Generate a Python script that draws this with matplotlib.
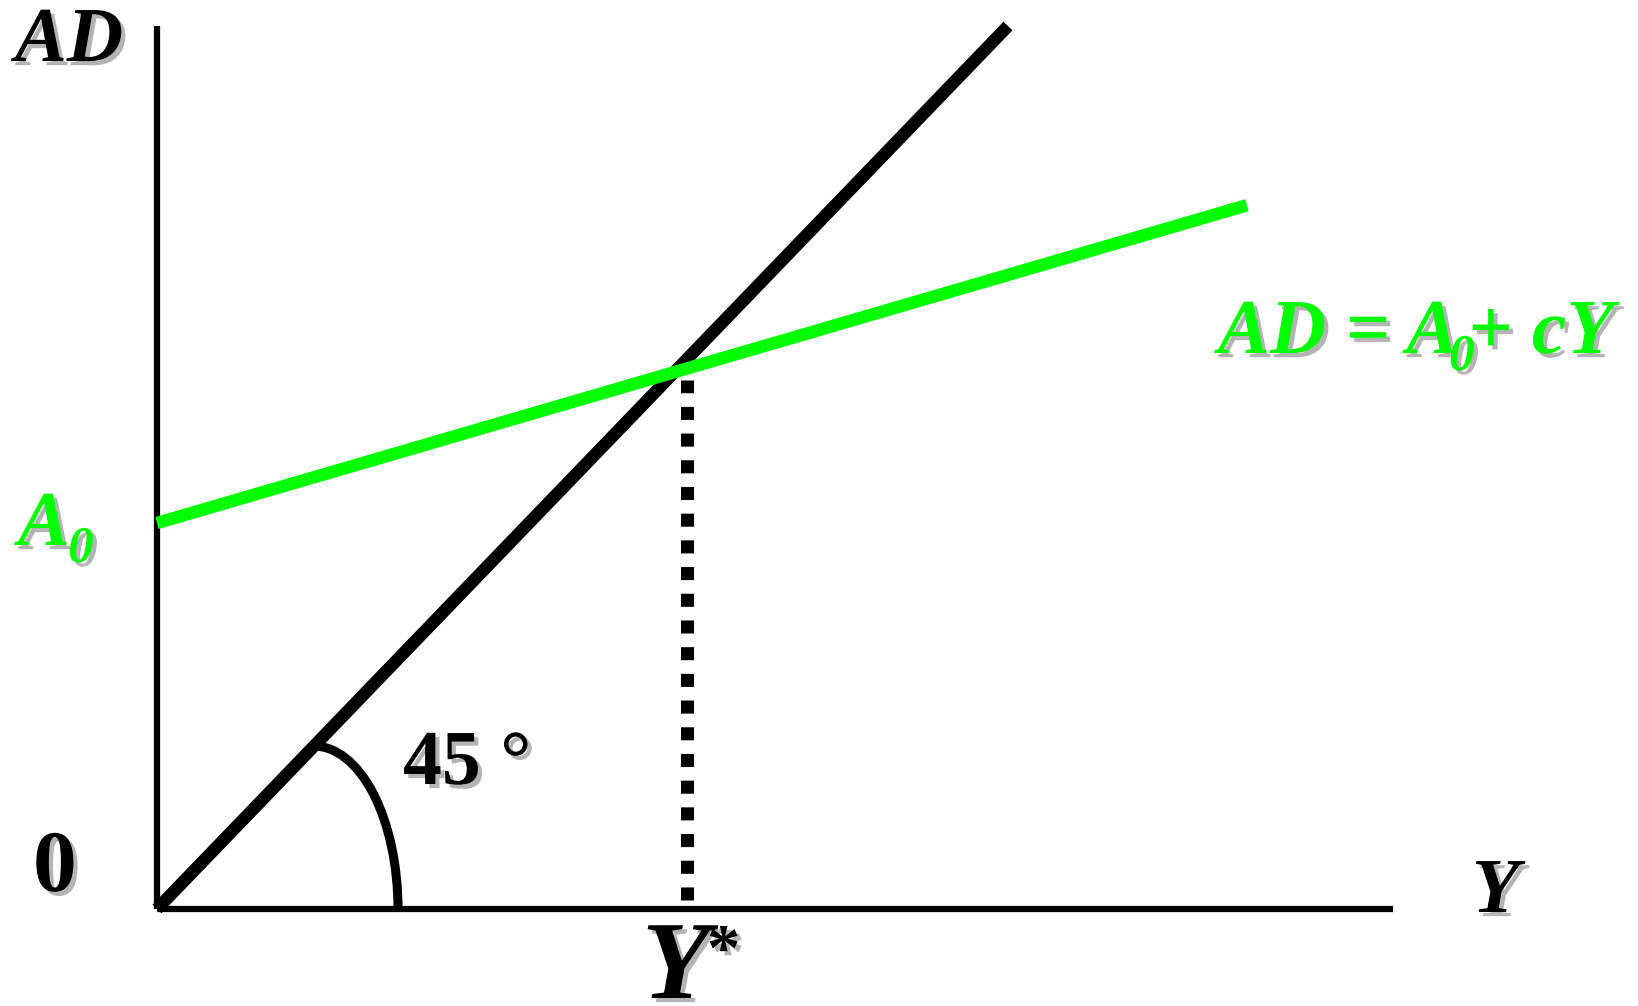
import matplotlib
matplotlib.use("Agg")
import matplotlib.pyplot as plt
import matplotlib.patheffects as pe
from matplotlib.patches import Arc

# Keynesian cross: AD = A0 + cY against the 45 degree line
Y_axis_max = 1236      # length of income axis
AD_axis_max = 851      # length of AD axis
line45_Y = [0, 851]    # 45 degree line, AD = Y
A0 = 372               # autonomous demand
c = 0.281              # marginal propensity to consume
ad_Y = [0, 1090]       # range of the AD line
Y_star = 529.5         # equilibrium income (dotted guide)
guide_AD = [8.7, 510]  # extent of dotted guide
arc_center = (157, 0)
arc_size = (168, 314)  # width, height of the angle arc ellipse

W, H = 1638, 1006
fig = plt.figure(figsize=(W / 100, H / 100), dpi=100)
ax = fig.add_axes([0, 0, 1, 1])
ax.set_xlim(-157, W - 157)
ax.set_ylim(-(H - 909) / 1.0376, 909 / 1.0376)
ax.axis("off")

# axes
ax.plot([0, 0], [0, AD_axis_max], color="black", lw=4.5, solid_capstyle="butt")
ax.plot([0, Y_axis_max], [0, 0], color="black", lw=4.5, solid_capstyle="butt")

# 45 degree line
ax.plot(line45_Y, line45_Y, color="black", lw=9, solid_capstyle="butt")

# AD line
ad_vals = [A0 + c * y for y in ad_Y]
ax.plot(ad_Y, ad_vals, color="#00ff00", lw=9, solid_capstyle="butt")

# dotted guide at Y*
ax.plot([Y_star, Y_star], guide_AD, color="black", lw=9.4,
        dashes=(1, 1.045), dash_capstyle="butt")

# angle arc
ax.add_patch(Arc(arc_center, arc_size[0], arc_size[1], theta1=0, theta2=90,
                 color="black", lw=6.5))

shadow = [pe.SimplePatchShadow(offset=(3, -3), shadow_rgbFace="#b4b4b4", alpha=1.0),
          pe.Normal()]


def label(x, y, s, size, color="black", style="italic"):
    fig.text(x / W, 1 - y / H, s, fontsize=size, family="Liberation Serif",
             weight="bold", style=style, color=color, ha="left", va="baseline",
             path_effects=shadow)


green = "#00ff00"
label(15, 61, "AD", 56)
label(18, 545, "A", 56, green)
label(68, 562, "0", 37, green)
label(1218, 353, "AD = A", 56, green)
label(1449, 370, "0", 37, green)
label(1468, 353, "+ cY", 56, green)
label(403, 784, "45 \u00b0", 56, style="normal")
label(33, 891, "0", 63, style="normal")
label(1472, 912, "Y", 56)
label(642, 998, "Y", 80)
label(707, 970, "*", 48, style="normal")

fig.savefig("out.png", dpi=100)
